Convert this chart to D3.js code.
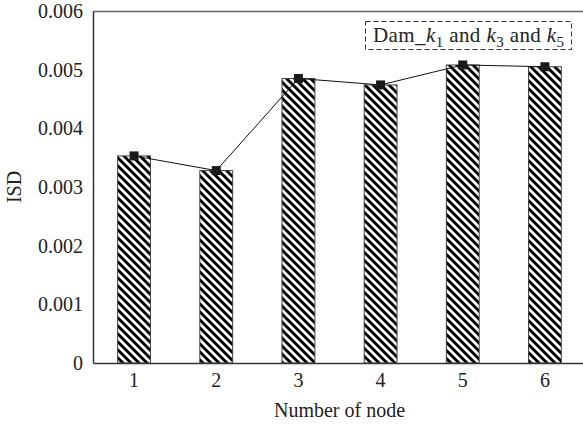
<!DOCTYPE html>
<html>
<head>
<meta charset="utf-8">
<script src="https://cdn.jsdelivr.net/npm/d3@7"></script>
<style>
  html, body { margin: 0; padding: 0; background: #fff; }
  svg { display: block; }
  text { font-family: "Liberation Serif", "DejaVu Serif", serif; fill: #222; }
</style>
</head>
<body>
<svg id="chart" width="583" height="427"></svg>
<script>
// Node categories and ISD values
const nodes = ["1", "2", "3", "4", "5", "6"];
const isdValues = [0.00353, 0.00328, 0.00485, 0.00474, 0.00508, 0.00505];
const yTicks = [0, 0.001, 0.002, 0.003, 0.004, 0.005, 0.006];
const yTickLabels = ["0", "0.001", "0.002", "0.003", "0.004", "0.005", "0.006"];

const svg = d3.select("#chart");
const margin = { left: 93, top: 11, right: -3, bottom: 64 };
const W = 583, H = 427;
const x0 = margin.left, x1 = W - margin.right;
const yTop = margin.top, yBottom = H - margin.bottom;
const FS = 20;

const x = d3.scaleBand().domain(nodes).range([x0, x1])
  .paddingInner(0.6).paddingOuter(0.3);
const y = d3.scaleLinear().domain([0, 0.006]).range([yBottom, yTop]);

// Diagonal hatch fill for the bars
const defs = svg.append("defs");
const pat = defs.append("pattern")
  .attr("id", "hatch")
  .attr("patternUnits", "userSpaceOnUse")
  .attr("width", 8).attr("height", 8);
pat.append("rect").attr("width", 8).attr("height", 8).attr("fill", "#fff");
pat.append("path")
  .attr("d", "M-2,-2 L10,10 M-2,6 L2,10 M6,-2 L10,2")
  .attr("stroke", "#000").attr("stroke-width", 2.9);

// Bars
svg.append("g").selectAll("rect")
  .data(nodes)
  .join("rect")
  .attr("x", d => x(d))
  .attr("y", (d, i) => y(isdValues[i]))
  .attr("width", x.bandwidth())
  .attr("height", (d, i) => y(0) - y(isdValues[i]))
  .attr("fill", "url(#hatch)")
  .attr("stroke", "#444")
  .attr("stroke-width", 1);

// Connecting line with square markers
const pts = nodes.map((d, i) => [x(d) + x.bandwidth() / 2, y(isdValues[i])]);
svg.append("path")
  .attr("d", d3.line()(pts))
  .attr("fill", "none")
  .attr("stroke", "#111")
  .attr("stroke-width", 1);
const ms = 9;
svg.append("g").selectAll("rect")
  .data(pts)
  .join("rect")
  .attr("x", p => p[0] - ms / 2)
  .attr("y", p => p[1] - ms / 2)
  .attr("width", ms).attr("height", ms)
  .attr("fill", "#1a1a1a");

// Frame: top line, left axis, bottom axis
svg.append("line")
  .attr("x1", x0).attr("x2", W).attr("y1", yTop + 0.5).attr("y2", yTop + 0.5)
  .attr("stroke", "#666").attr("stroke-width", 1.5);
const yAxis = d3.axisLeft(y).tickValues(yTicks)
  .tickFormat((d, i) => yTickLabels[i]).tickSize(0).tickPadding(10);
const gy = svg.append("g").attr("transform", `translate(${x0},0)`).call(yAxis);
gy.select(".domain").attr("stroke", "#333").attr("stroke-width", 1.5);
gy.attr("font-size", FS).attr("font-family", "Liberation Serif, DejaVu Serif, serif");
gy.selectAll("text").attr("fill", "#222");

const xAxis = d3.axisBottom(x).tickSize(0).tickPadding(10);
const gx = svg.append("g").attr("transform", `translate(0,${yBottom})`).call(xAxis);
gx.select(".domain").attr("stroke", "#333").attr("stroke-width", 1.5);
gx.attr("font-size", FS).attr("font-family", "Liberation Serif, DejaVu Serif, serif");
gx.selectAll("text").attr("fill", "#222");

// Axis titles
svg.append("text")
  .attr("transform", `translate(21,${(yTop + yBottom) / 2}) rotate(-90)`)
  .attr("text-anchor", "middle")
  .attr("font-size", FS)
  .text("ISD");
svg.append("text")
  .attr("x", (x0 + x1) / 2).attr("y", 417)
  .attr("text-anchor", "middle")
  .attr("font-size", FS)
  .text("Number of node");

// Legend in a dashed box
const lg = svg.append("g");
lg.append("rect")
  .attr("x", 365.5).attr("y", 21.5).attr("width", 206).attr("height", 28)
  .attr("fill", "#fff").attr("stroke", "#333").attr("stroke-width", 1)
  .attr("stroke-dasharray", "5,3");
const lt = lg.append("text").attr("x", 373).attr("y", 42)
  .attr("font-size", 21).attr("letter-spacing", 0.4);
lt.append("tspan").text("Dam_");
const parts = ["1", "3", "5"];
parts.forEach((s, i) => {
  lt.append("tspan").attr("font-style", "italic").text("k");
  lt.append("tspan").attr("font-size", 15).attr("dy", 5).text(s);
  if (i < parts.length - 1) lt.append("tspan").attr("dy", -5).text("\u00a0and\u00a0");
});
</script>
</body>
</html>
